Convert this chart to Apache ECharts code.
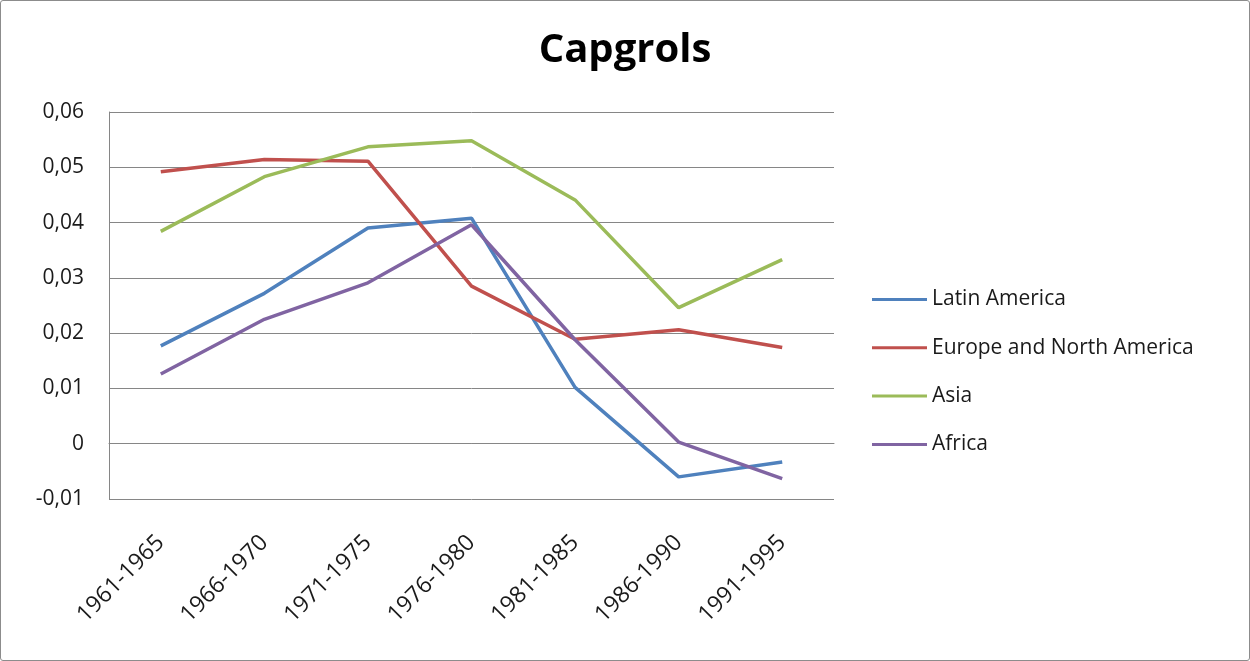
<!DOCTYPE html>
<html>
<head>
<meta charset="utf-8">
<script src="https://cdn.jsdelivr.net/npm/echarts@6/dist/echarts.min.js"></script>
<style>
  html, body { margin: 0; padding: 0; background: #fff; }
  #chart { width: 1248px; height: 659px; border: 1px solid #8c8c8c; border-radius: 3px; }
</style>
</head>
<body>
<div id="chart"></div>
<script>
// Periods on the horizontal axis
const periods = ['1961-1965', '1966-1970', '1971-1975', '1976-1980', '1981-1985', '1986-1990', '1991-1995'];

// Capgrols by region
const latinAmerica = [0.0177, 0.0272, 0.0390, 0.0408, 0.0102, -0.0060, -0.0033];
const europeNorthAmerica = [0.0492, 0.0514, 0.0511, 0.0285, 0.0189, 0.0206, 0.0174];
const asia = [0.0384, 0.0483, 0.0537, 0.0548, 0.0441, 0.0246, 0.0333];
const africa = [0.0126, 0.0225, 0.0291, 0.0396, 0.0188, 0.0003, -0.0063];

const seriesNames = ['Latin America', 'Europe and North America', 'Asia', 'Africa'];
const seriesColors = ['#4F81BD', '#C0504D', '#9BBB59', '#8064A2'];
const seriesData = [latinAmerica, europeNorthAmerica, asia, africa];

const FONT = '"Open Sans", Lato, sans-serif';

const chart = echarts.init(document.getElementById('chart'));
chart.setOption({
  animation: false,
  color: seriesColors,
  title: {
    text: 'Capgrols',
    left: 'center',
    top: 25,
    textStyle: { fontFamily: FONT, fontWeight: 'bold', fontSize: 40, color: '#000' }
  },
  legend: {
    orient: 'vertical',
    left: 866,
    top: 283,
    itemWidth: 55,
    itemHeight: 3,
    itemGap: 27.3,
    icon: 'rect',
    data: seriesNames,
    textStyle: { fontFamily: FONT, fontSize: 21, color: '#1a1a1a' }
  },
  grid: { left: 108, right: 415, top: 111, bottom: 161, containLabel: false },
  xAxis: {
    type: 'category',
    data: periods,
    boundaryGap: true,
    axisLine: { show: true, lineStyle: { color: '#868686', width: 1 } },
    axisTick: { show: false },
    axisLabel: {
      rotate: 45,
      margin: 40,
      fontFamily: FONT,
      fontSize: 23,
      color: '#1a1a1a'
    }
  },
  yAxis: {
    type: 'value',
    min: -0.01,
    max: 0.06,
    interval: 0.01,
    axisLine: { show: true, lineStyle: { color: '#868686', width: 1 } },
    axisTick: { show: false },
    splitLine: { show: true, lineStyle: { color: '#868686', width: 1 } },
    axisLabel: {
      margin: 25,
      fontFamily: FONT,
      fontSize: 21,
      color: '#1a1a1a',
      formatter: function (v) {
        if (Math.abs(v) < 1e-9) return '0';
        return v.toFixed(2).replace('.', ',');
      }
    }
  },
  series: seriesData.map(function (d, i) {
    return {
      name: seriesNames[i],
      type: 'line',
      data: d,
      symbol: 'none',
      lineStyle: { width: 3.5, color: seriesColors[i] },
      itemStyle: { color: seriesColors[i] }
    };
  })
});
</script>
</body>
</html>
